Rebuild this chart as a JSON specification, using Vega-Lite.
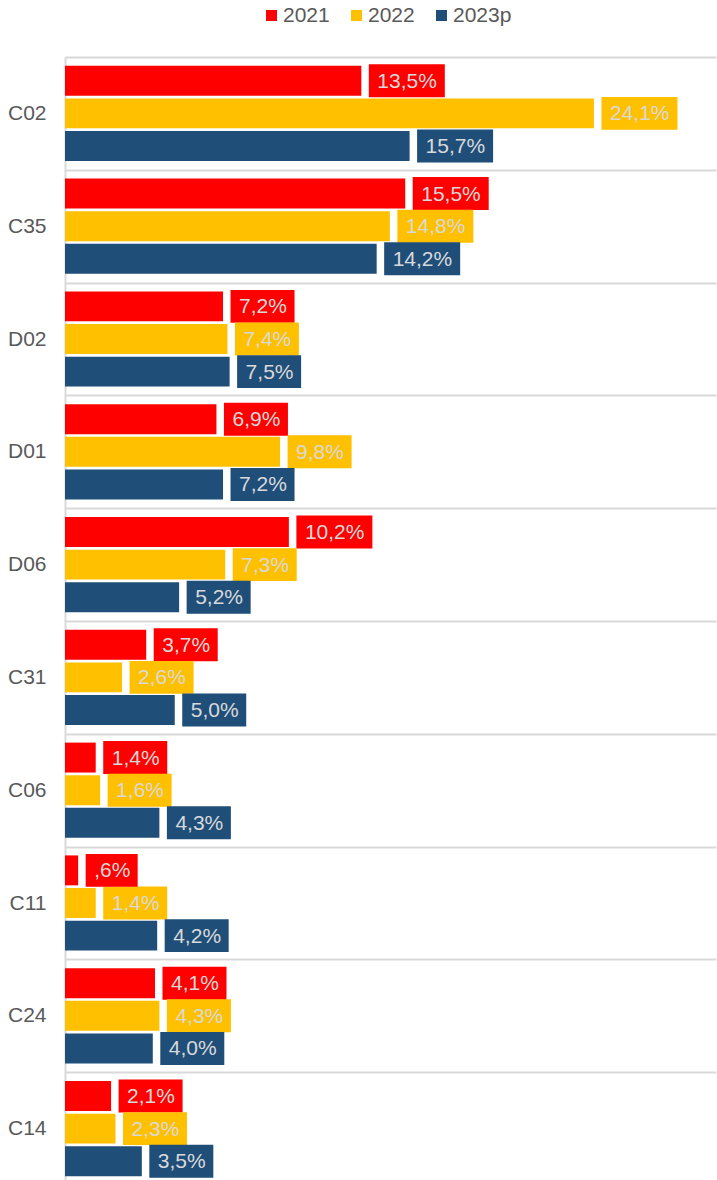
{
  "$schema": "https://vega.github.io/schema/vega-lite/v6.json",
  "width": 651,
  "height": 1128,
  "autosize": {"type": "none"},
  "padding": {"left": 65, "top": 57, "right": 1, "bottom": 0},
  "background": "white",
  "config": {
    "view": {"stroke": null},
    "font": "Liberation Sans",
    "text": {"font": "Liberation Sans"}
  },
  "data": {
    "values": [
      {"cat": "C02", "series": "2021", "value": 13.5, "label": "13,5%"},
      {"cat": "C02", "series": "2022", "value": 24.1, "label": "24,1%"},
      {"cat": "C02", "series": "2023p", "value": 15.7, "label": "15,7%"},
      {"cat": "C35", "series": "2021", "value": 15.5, "label": "15,5%"},
      {"cat": "C35", "series": "2022", "value": 14.8, "label": "14,8%"},
      {"cat": "C35", "series": "2023p", "value": 14.2, "label": "14,2%"},
      {"cat": "D02", "series": "2021", "value": 7.2, "label": "7,2%"},
      {"cat": "D02", "series": "2022", "value": 7.4, "label": "7,4%"},
      {"cat": "D02", "series": "2023p", "value": 7.5, "label": "7,5%"},
      {"cat": "D01", "series": "2021", "value": 6.9, "label": "6,9%"},
      {"cat": "D01", "series": "2022", "value": 9.8, "label": "9,8%"},
      {"cat": "D01", "series": "2023p", "value": 7.2, "label": "7,2%"},
      {"cat": "D06", "series": "2021", "value": 10.2, "label": "10,2%"},
      {"cat": "D06", "series": "2022", "value": 7.3, "label": "7,3%"},
      {"cat": "D06", "series": "2023p", "value": 5.2, "label": "5,2%"},
      {"cat": "C31", "series": "2021", "value": 3.7, "label": "3,7%"},
      {"cat": "C31", "series": "2022", "value": 2.6, "label": "2,6%"},
      {"cat": "C31", "series": "2023p", "value": 5.0, "label": "5,0%"},
      {"cat": "C06", "series": "2021", "value": 1.4, "label": "1,4%"},
      {"cat": "C06", "series": "2022", "value": 1.6, "label": "1,6%"},
      {"cat": "C06", "series": "2023p", "value": 4.3, "label": "4,3%"},
      {"cat": "C11", "series": "2021", "value": 0.6, "label": ",6%"},
      {"cat": "C11", "series": "2022", "value": 1.4, "label": "1,4%"},
      {"cat": "C11", "series": "2023p", "value": 4.2, "label": "4,2%"},
      {"cat": "C24", "series": "2021", "value": 4.1, "label": "4,1%"},
      {"cat": "C24", "series": "2022", "value": 4.3, "label": "4,3%"},
      {"cat": "C24", "series": "2023p", "value": 4.0, "label": "4,0%"},
      {"cat": "C14", "series": "2021", "value": 2.1, "label": "2,1%"},
      {"cat": "C14", "series": "2022", "value": 2.3, "label": "2,3%"},
      {"cat": "C14", "series": "2023p", "value": 3.5, "label": "3,5%"}
    ]
  },
  "encoding": {
    "y": {
      "field": "cat",
      "type": "nominal",
      "sort": null,
      "title": null,
      "scale": {"paddingInner": 0, "paddingOuter": 0},
      "axis": {
        "tickBand": "extent",
        "ticks": false,
        "grid": true,
        "gridColor": "#D9D9D9",
        "gridWidth": 2,
        "domainColor": "#D9D9D9",
        "domainWidth": 2,
        "labelFont": "Liberation Sans",
        "labelFontSize": 21,
        "labelColor": "#595959",
        "labelPadding": 19
      }
    },
    "yOffset": {
      "field": "series",
      "type": "nominal",
      "sort": ["2021", "2022", "2023p"],
      "scale": {"paddingInner": 0.083, "paddingOuter": 0.27}
    },
    "x": {
      "field": "value",
      "type": "quantitative",
      "scale": {"domain": [0, 29.66], "nice": false},
      "axis": null
    }
  },
  "layer": [
    {
      "mark": {"type": "bar"},
      "encoding": {
        "color": {
          "field": "series",
          "type": "nominal",
          "sort": ["2021", "2022", "2023p"],
          "scale": {"domain": ["2021", "2022", "2023p"], "range": ["#FF0000", "#FFC000", "#1F4E79"]},
          "legend": {
            "title": null,
            "orient": "none",
            "direction": "horizontal",
            "legendX": 196,
            "legendY": -52,
            "symbolType": "square",
            "symbolSize": 121,
            "symbolStrokeWidth": 0,
            "labelFont": "Liberation Sans",
            "labelFontSize": 21,
            "labelColor": "#595959",
            "labelOffset": 1,
            "columnPadding": 16,
            "gridAlign": "none"
          }
        }
      }
    },
    {
      "transform": [{"filter": "length(datum.label) == 5"}],
      "mark": {"type": "rect", "xOffset": 9, "x2Offset": 82, "strokeWidth": 3},
      "encoding": {
        "x2": {"field": "value"},
        "color": {"field": "series", "type": "nominal", "scale": {"domain": ["2021", "2022", "2023p"], "range": ["#FF0000", "#FFC000", "#1F4E79"]}, "legend": null},
        "stroke": {"field": "series", "type": "nominal", "scale": {"domain": ["2021", "2022", "2023p"], "range": ["#FF0000", "#FFC000", "#1F4E79"]}, "legend": null}
      }
    },
    {
      "transform": [{"filter": "length(datum.label) == 4"}],
      "mark": {"type": "rect", "xOffset": 9, "x2Offset": 70, "strokeWidth": 3},
      "encoding": {
        "x2": {"field": "value"},
        "color": {"field": "series", "type": "nominal", "scale": {"domain": ["2021", "2022", "2023p"], "range": ["#FF0000", "#FFC000", "#1F4E79"]}, "legend": null},
        "stroke": {"field": "series", "type": "nominal", "scale": {"domain": ["2021", "2022", "2023p"], "range": ["#FF0000", "#FFC000", "#1F4E79"]}, "legend": null}
      }
    },
    {
      "transform": [{"filter": "length(datum.label) == 3"}],
      "mark": {"type": "rect", "xOffset": 9, "x2Offset": 58, "strokeWidth": 3},
      "encoding": {
        "x2": {"field": "value"},
        "color": {"field": "series", "type": "nominal", "scale": {"domain": ["2021", "2022", "2023p"], "range": ["#FF0000", "#FFC000", "#1F4E79"]}, "legend": null},
        "stroke": {"field": "series", "type": "nominal", "scale": {"domain": ["2021", "2022", "2023p"], "range": ["#FF0000", "#FFC000", "#1F4E79"]}, "legend": null}
      }
    },
    {
      "mark": {"type": "text", "align": "left", "baseline": "middle", "dx": 16, "dy": 1, "fontSize": 21, "font": "Liberation Sans", "color": "#D9D9D9"},
      "encoding": {
        "text": {"field": "label"}
      }
    }
  ]
}
